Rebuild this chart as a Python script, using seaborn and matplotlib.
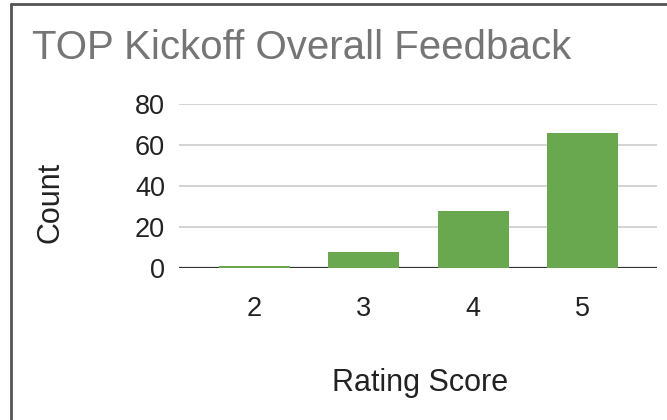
import seaborn as sns
import matplotlib.pyplot as plt
import pandas as pd
from matplotlib.lines import Line2D

# 数据
scores = ["2", "3", "4", "5"]
counts = [1, 8, 28, 66]
y_ticks = [0, 20, 40, 60, 80]

sns.set_style("white")
plt.rcParams['font.family'] = ['Liberation Sans', 'DejaVu Sans']

df = pd.DataFrame({"score": scores, "count": counts})

fig = plt.figure(figsize=(6.67, 4.2), dpi=100)
ax = fig.add_axes([179 / 667, 1 - 268 / 420, 478 / 667, 164 / 420])

sns.barplot(data=df, x="score", y="count", color="#6aa84f", saturation=1,
            width=0.65, linewidth=0, edgecolor="none", ax=ax, zorder=5)

ax.set_ylim(0, 80)
ax.set_xlim(-0.69, 3.68)
ax.set_yticks(y_ticks)
ax.yaxis.grid(True, color="#cccccc", linewidth=1.2, zorder=0)
ax.axhline(0, color="#333333", linewidth=1.6, zorder=4)
for s in ax.spines.values():
    s.set_visible(False)
ax.tick_params(axis="both", length=0, labelsize=19.5, colors="#222222", pad=10)
ax.tick_params(axis="x", pad=20)
ax.set_xlabel("")
ax.set_ylabel("")

fig.text(32 / 667, 1 - 48 / 420, "TOP Kickoff Overall Feedback", fontsize=29,
         color="#757575", va="center", ha="left")
fig.text(50 / 667, 1 - 202 / 420, "Count", fontsize=22, color="#222222",
         rotation=90, va="center", ha="center")
fig.text(420 / 667, 1 - 383 / 420, "Rating Score", fontsize=22, color="#222222",
         va="center", ha="center")

# 边框（上、左）
fig.add_artist(Line2D([11 / 667, 11 / 667], [0, 1 - 4 / 420], transform=fig.transFigure,
                      color="#555555", linewidth=2))
fig.add_artist(Line2D([11 / 667, 1], [1 - 4 / 420, 1 - 4 / 420], transform=fig.transFigure,
                      color="#555555", linewidth=2))

fig.savefig("out.png", dpi=100)
